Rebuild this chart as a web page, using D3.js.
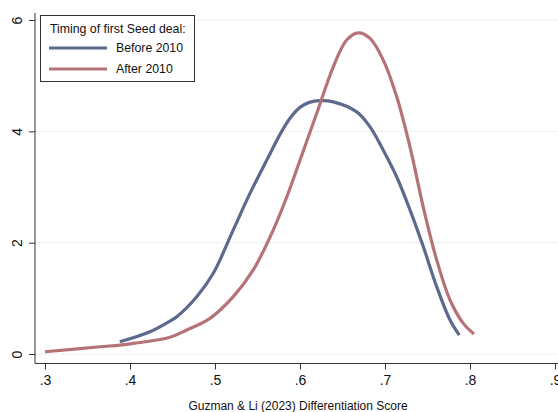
<!DOCTYPE html>
<html>
<head>
<meta charset="utf-8">
<script src="https://cdn.jsdelivr.net/npm/d3@7"></script>
<style>
	body { margin: 0; background: #fff; }
	svg { display: block; font-family: "Liberation Sans", Arial, sans-serif; }
</style>
</head>
<body>
<div id="chart"></div>
<script>
(function () {
	//Width and height
	var w = 558;
	var h = 412;

	//Tick values
	var xTicks = [0.3, 0.4, 0.5, 0.6, 0.7, 0.8, 0.9];
	var yTicks = [0, 2, 4, 6];

	//Series: x values and density values
	var beforeX = [0.388, 0.4235, 0.449, 0.455, 0.4785, 0.498, 0.5215, 0.541, 0.5608, 0.5785, 0.59, 0.6, 0.611, 0.6235, 0.6392, 0.6667, 0.6824, 0.698, 0.7138, 0.7294, 0.745, 0.7608, 0.7765, 0.7874];
	var beforeY = [0.22, 0.40, 0.61, 0.67, 1.03, 1.45, 2.23, 2.88, 3.48, 4.00, 4.27, 4.43, 4.52, 4.55, 4.53, 4.35, 4.08, 3.66, 3.18, 2.59, 1.93, 1.21, 0.61, 0.34];

	var afterX = [0.3, 0.3647, 0.388, 0.4039, 0.447, 0.4667, 0.4941, 0.5215, 0.545, 0.5686, 0.5844, 0.6, 0.6196, 0.6392, 0.6549, 0.6686, 0.6824, 0.698, 0.7138, 0.7294, 0.745, 0.7608, 0.7765, 0.7921, 0.8047];
	var afterY = [0.04, 0.13, 0.16, 0.19, 0.30, 0.43, 0.64, 1.03, 1.51, 2.23, 2.82, 3.48, 4.32, 5.16, 5.64, 5.77, 5.67, 5.28, 4.62, 3.72, 2.64, 1.69, 0.97, 0.55, 0.36];

	var seriesNames = ["Before 2010", "After 2010"];
	var seriesColors = ["#5d6a8e", "#b57378"];
	var legendTitle = "Timing of first Seed deal:";
	var xTitle = "Guzman & Li (2023) Differentiation Score";

	var zip = function (xs, ys) {
		return xs.map(function (x, i) { return { x: x, y: ys[i] }; });
	};
	var series = [zip(beforeX, beforeY), zip(afterX, afterY)];

	//Scales
	var xScale = d3.scaleLinear()
		.domain([0.3, 0.9])
		.range([45, 555]);

	var yScale = d3.scaleLinear()
		.domain([0, 6])
		.range([354, 20]);

	var svg = d3.select("#chart")
		.append("svg")
		.attr("width", w)
		.attr("height", h);

	//Gridlines
	svg.selectAll(".grid")
		.data(yTicks)
		.enter()
		.append("line")
		.attr("x1", 35)
		.attr("x2", w)
		.attr("y1", function (d) { return yScale(d); })
		.attr("y2", function (d) { return yScale(d); })
		.attr("stroke", "#eaf1f3")
		.attr("stroke-width", 1);

	//Y axis
	var yAxis = svg.append("g")
		.attr("transform", "translate(35,0)")
		.call(d3.axisLeft(yScale).tickValues(yTicks).tickSize(6).tickFormat(d3.format("d")));
	yAxis.select(".domain").attr("d", "M0,13V363.5").attr("stroke", "#333");
	yAxis.selectAll(".tick line").attr("stroke", "#333");
	yAxis.selectAll(".tick text")
		.attr("transform", "rotate(-90)")
		.attr("x", 0)
		.attr("y", -18)
		.attr("dy", "0.35em")
		.attr("text-anchor", "middle")
		.attr("font-size", "14px")
		.attr("font-family", "Liberation Sans, Arial, sans-serif")
		.attr("fill", "#111");

	//X axis
	var xAxis = svg.append("g")
		.attr("transform", "translate(0,363.5)")
		.call(d3.axisBottom(xScale).tickValues(xTicks).tickSize(6).tickPadding(6)
			.tickFormat(function (d) { return d3.format(".1f")(d).replace(/^0/, ""); }));
	xAxis.select(".domain").attr("d", "M35,0H" + w).attr("stroke", "#333");
	xAxis.selectAll(".tick line").attr("stroke", "#333");
	xAxis.selectAll(".tick text")
		.attr("font-size", "14px")
		.attr("font-family", "Liberation Sans, Arial, sans-serif")
		.attr("fill", "#111");

	//X axis title
	svg.append("text")
		.attr("x", 298)
		.attr("y", 406)
		.attr("dy", "0.35em")
		.attr("text-anchor", "middle")
		.attr("font-size", "12px")
		.attr("fill", "#111")
		.text(xTitle);

	//Lines
	var line = d3.line()
		.x(function (d) { return xScale(d.x); })
		.y(function (d) { return yScale(d.y); })
		.curve(d3.curveCatmullRom.alpha(0.5));

	svg.selectAll(".series")
		.data(series)
		.enter()
		.append("path")
		.attr("d", line)
		.attr("fill", "none")
		.attr("stroke", function (d, i) { return seriesColors[i]; })
		.attr("stroke-width", 3.2)
		.attr("stroke-linejoin", "round");

	//Legend
	var legend = svg.append("g");
	legend.append("rect")
		.attr("x", 40.5)
		.attr("y", 15.5)
		.attr("width", 154)
		.attr("height", 66)
		.attr("fill", "#fff")
		.attr("stroke", "#333")
		.attr("stroke-width", 1);
	legend.append("text")
		.attr("x", 50)
		.attr("y", 29)
		.attr("dy", "0.35em")
		.attr("font-size", "12.3px")
		.attr("fill", "#111")
		.text(legendTitle);
	seriesNames.forEach(function (name, i) {
		var yy = 48 + i * 21;
		legend.append("line")
			.attr("x1", 49)
			.attr("x2", 107)
			.attr("y1", yy)
			.attr("y2", yy)
			.attr("stroke", seriesColors[i])
			.attr("stroke-width", 3.2);
		legend.append("text")
			.attr("x", 116)
			.attr("y", yy)
			.attr("dy", "0.35em")
			.attr("font-size", "12.3px")
			.attr("fill", "#111")
			.text(name);
	});
})();
</script>
</body>
</html>
